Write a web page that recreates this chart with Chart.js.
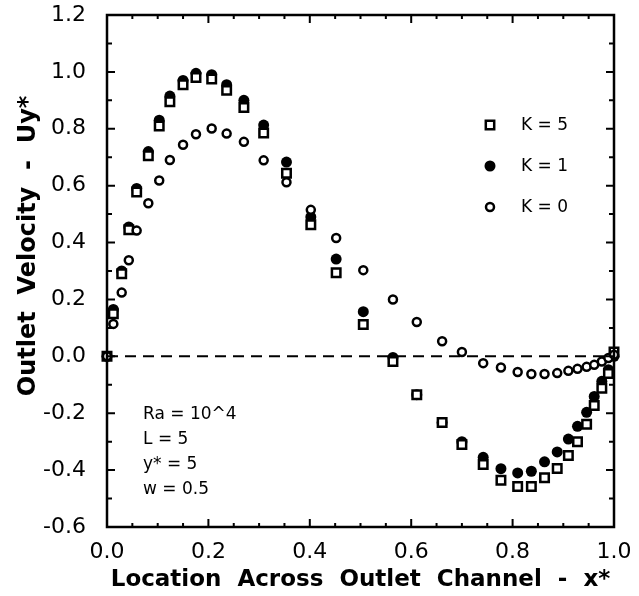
<!DOCTYPE html>
<html>
<head>
<meta charset="utf-8">
<script src="https://cdn.jsdelivr.net/npm/chart.js@4.4.1/dist/chart.umd.min.js"></script>
<style>
  body { margin: 0; background: #fff; }
  canvas { display: block; }
</style>
</head>
<body>
<canvas id="velocityChart" width="639" height="596"></canvas>
<script>
// x* positions across the outlet channel (shared by all three runs)
const xPos = [0, 0.0125, 0.029, 0.043, 0.0585, 0.0815, 0.103, 0.124, 0.15, 0.1755,
  0.2065, 0.236, 0.27, 0.309, 0.354, 0.402, 0.452, 0.5055, 0.564, 0.611,
  0.661, 0.70, 0.742, 0.777, 0.81, 0.837, 0.863, 0.888, 0.91, 0.928,
  0.946, 0.961, 0.976, 0.989, 1.0];

// outlet velocity Uy* for each K
const uK5 = [0, 0.15, 0.29, 0.445, 0.578, 0.705, 0.81, 0.895, 0.955, 0.98,
  0.975, 0.935, 0.875, 0.785, 0.644, 0.463, 0.294, 0.112, -0.018, -0.135,
  -0.233, -0.31, -0.38, -0.436, -0.458, -0.458, -0.427, -0.394, -0.349, -0.30,
  -0.239, -0.173, -0.112, -0.06, 0.015];
const uK1 = [0, 0.165, 0.30, 0.455, 0.59, 0.72, 0.83, 0.915, 0.97, 0.995,
  0.99, 0.955, 0.90, 0.813, 0.683, 0.49, 0.342, 0.157, -0.004, -0.135,
  -0.233, -0.30, -0.355, -0.395, -0.41, -0.404, -0.371, -0.336, -0.291, -0.246,
  -0.197, -0.141, -0.088, -0.047, 0.0];
const uK0 = [0, 0.114, 0.224, 0.338, 0.442, 0.538, 0.618, 0.69, 0.744, 0.781,
  0.801, 0.783, 0.754, 0.689, 0.612, 0.515, 0.416, 0.303, 0.20, 0.121,
  0.053, 0.015, -0.024, -0.039, -0.055, -0.062, -0.062, -0.059, -0.051, -0.044,
  -0.037, -0.03, -0.018, -0.006, 0.006];

const xTicks = [0, 0.2, 0.4, 0.6, 0.8, 1.0];
const yTicks = [-0.6, -0.4, -0.2, 0, 0.2, 0.4, 0.6, 0.8, 1.0, 1.2];
const seriesNames = ['K = 5', 'K = 1', 'K = 0'];
const notes = ['Ra = 10^4', 'L = 5', 'y* = 5', 'w = 0.5'];

const tickFont = { family: 'DejaVu Sans', size: 22 };

function toPoints(ys) {
  return xPos.map((x, i) => ({ x: x, y: ys[i] }));
}
function fmt(v) {
  return Math.abs(v) < 1e-9 ? '0.0' : v.toFixed(1);
}

function drawMarker(ctx, kind, x, y) {
  ctx.save();
  ctx.strokeStyle = '#000';
  ctx.fillStyle = '#fff';
  ctx.lineWidth = 2.5;
  ctx.beginPath();
  if (kind === 0) {
    ctx.rect(x - 4.2, y - 4.2, 8.4, 8.4);
    ctx.fill(); ctx.stroke();
  } else if (kind === 1) {
    ctx.fillStyle = '#000';
    ctx.arc(x, y, 5.5, 0, Math.PI * 2);
    ctx.fill();
  } else {
    ctx.arc(x, y, 4, 0, Math.PI * 2);
    ctx.fill(); ctx.stroke();
  }
  ctx.restore();
}

const frameAndTicks = {
  id: 'frameAndTicks',
  afterDraw(chart) {
    const { ctx, chartArea: a } = chart;
    const xs = chart.scales.x, ys = chart.scales.y;
    ctx.save();
    ctx.strokeStyle = '#000';
    ctx.lineWidth = 2.5;
    ctx.strokeRect(a.left, a.top, a.right - a.left, a.bottom - a.top);
    ctx.lineWidth = 2;
    ctx.beginPath();
    for (let k = 0; k <= 20; k++) {
      const px = xs.getPixelForValue(k * 0.05);
      const len = k % 4 === 0 ? 8 : 4;
      ctx.moveTo(px, a.bottom); ctx.lineTo(px, a.bottom - len);
      ctx.moveTo(px, a.top); ctx.lineTo(px, a.top + len);
    }
    for (let k = -6; k <= 12; k++) {
      const py = ys.getPixelForValue(k * 0.1);
      const len = k % 2 === 0 ? 8 : 5;
      ctx.moveTo(a.left, py); ctx.lineTo(a.left + len, py);
      ctx.moveTo(a.right, py); ctx.lineTo(a.right - len, py);
    }
    ctx.stroke();

    // legend
    ctx.fillStyle = '#000';
    ctx.font = '17px "DejaVu Sans"';
    ctx.textBaseline = 'middle';
    ctx.textAlign = 'left';
    const legY = [125, 166, 207];
    seriesNames.forEach((name, i) => {
      drawMarker(ctx, i, 490, legY[i]);
      ctx.fillText(name, 521, legY[i] + 1);
    });

    // run parameters
    notes.forEach((t, i) => {
      ctx.fillText(t, 143, 415 + i * 25);
    });
    ctx.restore();
  }
};

new Chart(document.getElementById('velocityChart'), {
  type: 'scatter',
  data: {
    datasets: [
      {
        label: seriesNames[2],
        data: toPoints(uK0),
        pointStyle: 'circle',
        pointRadius: 4,
        pointBorderWidth: 2.5,
        pointBorderColor: '#000',
        pointBackgroundColor: '#fff',
        clip: false
      },
      {
        label: seriesNames[0],
        data: toPoints(uK5),
        pointStyle: 'rect',
        pointRadius: 6,
        pointBorderWidth: 2.5,
        pointBorderColor: '#000',
        pointBackgroundColor: '#fff',
        clip: false
      },
      {
        label: seriesNames[1],
        data: toPoints(uK1),
        pointStyle: 'circle',
        pointRadius: 5.5,
        pointBorderWidth: 0,
        pointBackgroundColor: '#000',
        clip: false
      },
      {
        label: 'zero',
        data: [{ x: 0, y: 0 }, { x: 1, y: 0 }],
        showLine: true,
        borderColor: '#000',
        borderWidth: 2,
        borderDash: [11, 7],
        pointRadius: 0
      }
    ]
  },
  options: {
    responsive: false,
    animation: false,
    events: [],
    layout: { padding: { left: 0, top: 15, right: 25, bottom: 0 } },
    plugins: {
      legend: { display: false },
      tooltip: { enabled: false }
    },
    scales: {
      x: {
        type: 'linear',
        min: 0,
        max: 1,
        afterBuildTicks: s => { s.ticks = xTicks.map(v => ({ value: v })); },
        afterFit: s => { s.height = 69; s.paddingLeft = 0; s.paddingRight = 0; },
        grid: { display: false },
        border: { display: false },
        ticks: {
          color: '#000',
          font: tickFont,
          padding: 4,
          maxRotation: 0,
          callback: v => fmt(v)
        },
        title: {
          display: true,
          text: 'Location  Across  Outlet  Channel  -  x*',
          color: '#000',
          font: { family: 'DejaVu Sans', size: 23, weight: 'bold' },
          padding: { top: 0, bottom: 2 }
        }
      },
      y: {
        type: 'linear',
        min: -0.6,
        max: 1.2,
        afterBuildTicks: s => { s.ticks = yTicks.map(v => ({ value: v })); },
        afterFit: s => { s.width = 107; s.paddingTop = 0; s.paddingBottom = 0; },
        grid: { display: false },
        border: { display: false },
        ticks: {
          color: '#000',
          font: tickFont,
          padding: 13,
          callback: v => fmt(v)
        },
        title: {
          display: true,
          text: '      Outlet  Velocity  -  Uy*',
          color: '#000',
          font: { family: 'DejaVu Sans', size: 24, weight: 'bold' },
          padding: { top: 14, bottom: 0 }
        }
      }
    }
  },
  plugins: [frameAndTicks]
});
</script>
</body>
</html>
